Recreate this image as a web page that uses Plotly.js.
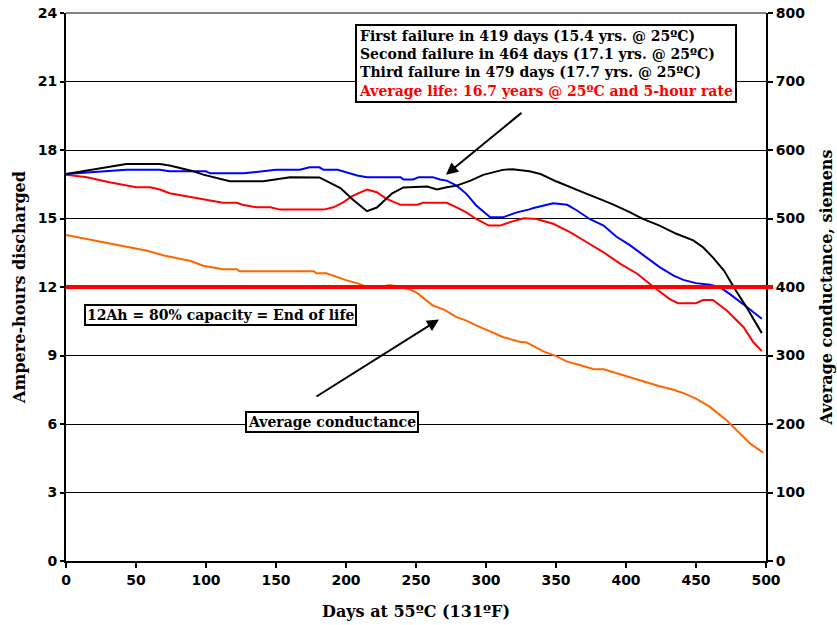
<!DOCTYPE html>
<html>
<head>
<meta charset="utf-8">
<script src="https://cdn.plot.ly/plotly-3.0.1.min.js"></script>
<style>
  html, body { margin: 0; padding: 0; background: #fff; }
  #chart { width: 837px; height: 625px; }
</style>
</head>
<body>
<div id="chart"></div>
<script>
// Capacity (Ah) of three batteries vs. days of accelerated ageing at 55ºC
const blackDays = [0,20,43,67,74,91,98,117,141,160,167,181,196,205,215,222,233,241,258,265,272,279,289,298,312,319,331,339,350,360,372,381,391,403,412,424,436,448,455,462,470,477,486,497];
const blackAh   = [16.95,17.15,17.39,17.39,17.32,17.07,16.92,16.63,16.63,16.81,16.81,16.8,16.33,15.82,15.32,15.48,16.1,16.36,16.4,16.27,16.37,16.44,16.66,16.91,17.13,17.16,17.07,16.95,16.63,16.37,16.08,15.86,15.61,15.27,14.98,14.69,14.33,14.04,13.74,13.30,12.72,11.99,11.12,9.98];

const blueDays = [0,43,67,74,100,103,127,139,150,167,174,181,184,194,200,208,215,239,241,248,252,262,267,272,279,286,293,303,312,322,331,334,348,358,365,374,384,393,403,415,424,434,441,450,460,467,474,484,497];
const blueAh   = [16.95,17.14,17.14,17.07,17.07,16.98,16.98,17.07,17.14,17.14,17.24,17.24,17.13,17.13,17.02,16.88,16.81,16.81,16.71,16.71,16.81,16.81,16.71,16.66,16.44,16.08,15.57,15.05,15.05,15.27,15.40,15.46,15.67,15.60,15.35,14.98,14.69,14.21,13.82,13.30,12.87,12.50,12.31,12.17,12.1,11.99,11.70,11.23,10.61];

const redDays = [0,15,31,50,60,67,74,91,112,122,126,136,146,153,167,184,191,198,205,215,222,229,239,251,255,272,279,286,293,302,310,317,327,336,348,360,372,384,396,408,420,431,437,450,455,462,472,484,491,497];
const redAh   = [16.92,16.81,16.59,16.37,16.37,16.27,16.11,15.93,15.69,15.69,15.6,15.49,15.49,15.39,15.39,15.39,15.49,15.71,16.0,16.27,16.15,15.86,15.6,15.6,15.69,15.69,15.49,15.27,14.98,14.69,14.69,14.84,15.01,14.98,14.77,14.40,13.96,13.52,13.01,12.58,11.99,11.48,11.29,11.29,11.43,11.43,10.97,10.24,9.58,9.19];

// Average conductance (siemens), right-hand axis
const condDays = [0,20,40,58,70,89,98,112,122,124,177,179,186,193,200,209,215,227,231,239,246,251,258,262,270,279,286,293,312,324,329,341,350,358,367,377,384,398,412,424,434,441,450,460,472,479,489,498];
const condS    = [476,468,461,453,446,438,431,426,426,423,423,420,420,415,410,405,400,401,403,400,396,391,380,373,367,356,351,344,327,320,319,306,299,291,286,280,280,271,263,255,250,245,237,225,205,191,171,158];

// End-of-life threshold: 80% of rated capacity
const endOfLifeAh = 12;

const leftTicks  = [0,3,6,9,12,15,18,21,24];
const rightTicks = [0,100,200,300,400,500,600,700,800];
const dayTicks   = [0,50,100,150,200,250,300,350,400,450,500];

const serif = {family: 'DejaVu Serif', size: 14, color: '#000', weight: 700};
const tickFont = {family: 'DejaVu Sans', size: 14, color: '#000', weight: 700};

const line = (x, y, color, axis) => ({
  x, y, type: 'scatter', mode: 'lines', yaxis: axis,
  line: {color, width: 2}, hoverinfo: 'skip', showlegend: false
});

const traces = [
  line(condDays, condS, '#ff6600', 'y2'),
  line(redDays, redAh, '#ff0000', 'y'),
  line(blueDays, blueAh, '#0000ff', 'y'),
  line(blackDays, blackAh, '#000000', 'y')
];

const layout = {
  width: 837, height: 625,
  margin: {l: 66, r: 71, t: 13, b: 64},
  paper_bgcolor: '#fff', plot_bgcolor: '#fff',
  showlegend: false,
  xaxis: {
    range: [0, 500], tickvals: dayTicks, ticktext: dayTicks.map(String),
    showgrid: false, zeroline: false,
    showline: true, linecolor: '#000', linewidth: 2,
    ticks: 'outside', ticklen: 5, tickwidth: 2, tickcolor: '#000',
    tickfont: tickFont,
    title: {text: 'Days at 55ºC (131ºF)', font: {...serif, size: 16}, standoff: 19}
  },
  yaxis: {
    range: [0, 24], tickvals: leftTicks, ticktext: leftTicks.map(String),
    showgrid: true, gridcolor: '#000', gridwidth: 1, zeroline: false,
    showline: true, linecolor: '#000', linewidth: 2,
    ticks: 'outside', ticklen: 4, tickwidth: 2, tickcolor: '#000',
    tickfont: tickFont,
    title: {text: 'Ampere-hours discharged', font: {...serif, size: 16}, standoff: 8}
  },
  yaxis2: {
    range: [0, 800], tickvals: rightTicks, ticktext: rightTicks.map(String),
    overlaying: 'y', side: 'right', anchor: 'x',
    showgrid: false, zeroline: false,
    showline: true, linecolor: '#000', linewidth: 2,
    ticks: 'outside', ticklen: 5, tickwidth: 2, tickcolor: '#000',
    tickfont: tickFont,
    title: {text: 'Average conductance, siemens', font: {...serif, size: 16}, standoff: 17}
  },
  shapes: [
    // top frame line
    {type: 'line', xref: 'paper', yref: 'paper', x0: 0, x1: 1, y0: 1, y1: 1,
     line: {color: '#808080', width: 2}},
    // end-of-life threshold
    {type: 'line', xref: 'paper', yref: 'y', x0: 0, x1: 1.01, y0: endOfLifeAh, y1: endOfLifeAh,
     line: {color: '#ff0000', width: 4}}
  ],
  annotations: [
    {xref: 'paper', yref: 'paper', x: 0.686, y: 0.907, xanchor: 'center', yanchor: 'middle',
     showarrow: false, align: 'left', font: serif,
     bgcolor: '#fff', bordercolor: '#000', borderwidth: 2, borderpad: 2,
     text: 'First failure in 419 days (15.4 yrs. @ 25ºC)<br>' +
           'Second failure in 464 days (17.1 yrs. @ 25ºC)<br>' +
           'Third failure in 479 days (17.7 yrs. @ 25ºC)<br>' +
           '<span style="color:#ff0000">Average life: 16.7 years @ 25ºC and 5-hour rate</span>'},
    {xref: 'x', yref: 'y', x: 271.4, y: 16.92, ax: 77, ay: -63, axref: 'pixel', ayref: 'pixel',
     text: '', showarrow: true, arrowhead: 2, arrowsize: 1.2, arrowwidth: 2, arrowcolor: '#000'},
    {xref: 'paper', yref: 'paper', x: 0.22, y: 0.449, xanchor: 'center', yanchor: 'middle',
     showarrow: false, font: serif,
     bgcolor: '#fff', bordercolor: '#000', borderwidth: 2, borderpad: 1,
     text: '12Ah = 80% capacity = End of life'},
    {xref: 'paper', yref: 'paper', x: 0.38, y: 0.2536, xanchor: 'center', yanchor: 'middle',
     showarrow: false, font: serif,
     bgcolor: '#fff', bordercolor: '#000', borderwidth: 2, borderpad: 1,
     text: 'Average conductance'},
    {xref: 'x', yref: 'y', x: 266.4, y: 10.58, ax: -124, ay: 78, axref: 'pixel', ayref: 'pixel',
     text: '', showarrow: true, arrowhead: 2, arrowsize: 1.2, arrowwidth: 2, arrowcolor: '#000'}
  ]
};

Plotly.newPlot('chart', traces, layout, {displayModeBar: false, staticPlot: true});
</script>
</body>
</html>
